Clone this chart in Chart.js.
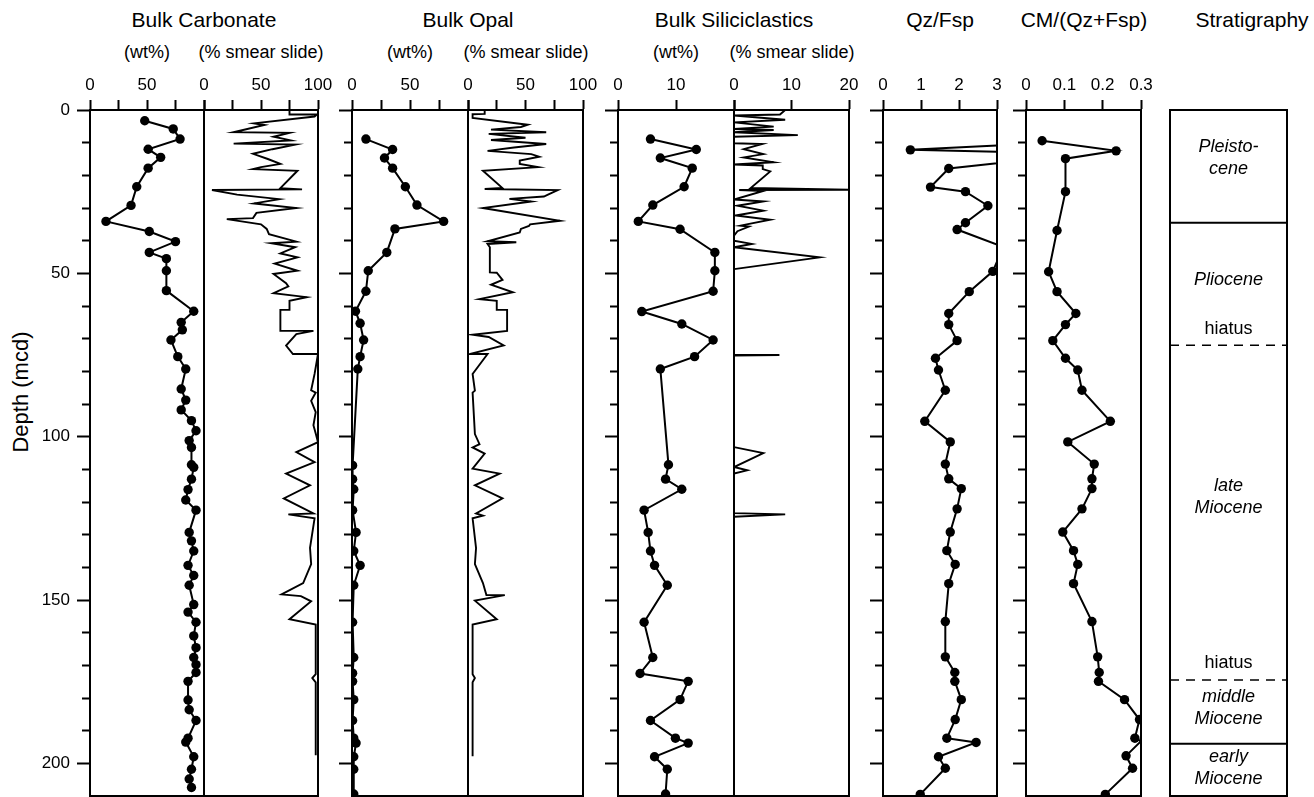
<!DOCTYPE html>
<html>
<head>
<meta charset="utf-8">
<title>Bulk sediment composition versus depth</title>
<script src="https://cdn.jsdelivr.net/npm/chart.js@4.4.1/dist/chart.umd.min.js"></script>
<style>
  html, body { margin: 0; padding: 0; background: #fff; }
  body { position: relative; width: 1314px; height: 797px; overflow: hidden;
         font-family: "Liberation Sans", Arial, Helvetica, sans-serif; color: #000; }
  canvas { position: absolute; top: 0; }
  .hd { position: absolute; white-space: nowrap; transform: translate(-50%, -50%); line-height: 1; }
  .big { font-size: 21px; }
  .sub { font-size: 18px; }
  #depthTitle { position: absolute; left: 21px; top: 392px; font-size: 22px; white-space: nowrap;
                line-height: 1; transform: translate(-50%, -50%) rotate(-90deg); }
</style>
</head>
<body>
<div class="hd big" style="left:204px;top:19px">Bulk Carbonate</div>
<div class="hd big" style="left:468px;top:19px">Bulk Opal</div>
<div class="hd big" style="left:734px;top:19px">Bulk Siliciclastics</div>
<div class="hd big" style="left:940px;top:19px">Qz/Fsp</div>
<div class="hd big" style="left:1084px;top:19px">CM/(Qz+Fsp)</div>
<div class="hd big" style="left:1252px;top:19px">Stratigraphy</div>
<div class="hd sub" style="left:147px;top:52px">(wt%)</div>
<div class="hd sub" style="left:261px;top:52px">(% smear slide)</div>
<div class="hd sub" style="left:410px;top:52px">(wt%)</div>
<div class="hd sub" style="left:526px;top:52px">(% smear slide)</div>
<div class="hd sub" style="left:676px;top:52px">(wt%)</div>
<div class="hd sub" style="left:792px;top:52px">(% smear slide)</div>
<div id="depthTitle">Depth (mcd)</div>
<script>
// ---------------- data (depth in mcd) ----------------
const depthMax = 210;

// Bulk carbonate, wt% (discrete samples)
const carbWtDepth = [3.3, 5.8, 8.9, 12.0, 14.5, 17.8, 23.5, 29.2, 34.1, 37.2, 40.3, 43.6, 45.5, 49.2, 55.3,
  61.6, 65.0, 67.3, 70.4, 75.5, 79.3, 85.4, 88.8, 91.8, 95.1, 98.2, 101.2, 103.3, 108.6, 109.4, 113.0,
  116.2, 119.4, 122.5, 129.3, 131.9, 135.0, 139.4, 142.5, 145.5, 151.4, 153.7, 156.8, 161.0, 164.6,
  167.6, 169.8, 172.2, 174.9, 180.6, 183.6, 186.9, 192.3, 193.5, 198.0, 201.8, 204.8, 207.4];
const carbWt = [48, 73, 79, 51, 62, 51, 41, 36, 14, 52, 75, 52, 67, 67, 67,
  91, 80, 81, 71, 77, 84, 80, 84, 80, 89, 93, 87, 89, 89, 91, 89,
  86, 84, 93, 87, 89, 91, 86, 91, 87, 91, 86, 93, 91, 93,
  91, 93, 93, 86, 86, 87, 93, 86, 84, 91, 89, 87, 89];

// Bulk carbonate, % smear slide
const carbSmDepth = [0, 1.4, 1.4, 2.0, 4.1, 4.6, 6.8, 7.0, 8.2, 9.3, 10.3, 10.6, 12.0, 13.4, 15.0, 16.5,
  17.5, 18.1, 18.6, 23.9, 24.3, 24.5, 25.9, 27.3, 28.6, 30.0, 31.5, 33.1, 33.4, 35.0, 36.4, 38.0, 40.3,
  40.8, 42.0, 43.9, 45.1, 47.0, 49.2, 50.2, 53.0, 54.0, 56.1, 57.3, 58.4, 61.2, 61.2, 67.6, 67.6, 68.6,
  72.1, 74.7, 74.7, 80.8, 85.8, 86.5, 89.0, 92.5, 96.5, 99.0, 101.7, 104.7, 107.8, 111.3, 114.9, 118.9,
  123.5, 123.8, 125.0, 134.0, 139.0, 144.8, 148.3, 148.8, 150.4, 155.9, 157.5, 172.7, 173.9, 175.2, 197.5];
const carbSm = [75, 75, 99, 97, 44, 53, 26, 75, 61, 76, 26, 80, 60, 43, 56, 67,
  50, 43, 82, 67, 86, 7, 29, 66, 44, 81, 46, 43, 20, 50, 55, 57, 81,
  59, 80, 67, 82, 62, 82, 61, 72, 74, 61, 90, 75, 75, 67, 67, 96, 81,
  72, 78, 100, 97, 94, 98, 94, 98, 96, 98, 100, 81, 97, 72, 93, 70,
  96, 74, 97, 93, 94, 87, 68, 85, 94, 75, 98, 98, 95, 98, 98];

// Bulk opal, wt%
const opalWtDepth = [8.9, 12.1, 14.7, 17.8, 23.5, 29.1, 34.1, 36.4, 43.6, 49.2, 55.5, 61.6, 65.3, 70.4,
  75.5, 79.3, 108.8, 113.0, 116.1, 122.5, 129.3, 135.0, 139.4, 145.5, 156.8, 167.6, 172.4, 174.9,
  180.5, 186.9, 192.3, 193.8, 198.0, 201.8, 209.4];
const opalWt = [12, 35, 28, 35, 46, 56, 79, 37, 30, 14, 12, 3, 7, 10,
  7, 5, 0.5, 0.5, 1.5, 0.5, 3.5, 1.5, 7, 1.5, 0.5, 1.5, 0.5, 0.5,
  1.5, 0.5, 1.5, 3.5, 1.5, 1.5, 1.5];

// Bulk opal, % smear slide
const opalSmDepth = [0, 1.2, 1.3, 2.4, 4.5, 5.2, 6.0, 6.8, 7.3, 8.5, 9.2, 10.4, 11.5, 12.5, 13.5, 14.3,
  15.5, 16.5, 17.5, 18.6, 23.9, 24.2, 24.5, 25.8, 26.5, 27.2, 28.0, 30.0, 33.9, 35.0, 35.5, 36.4, 37.5,
  40.2, 40.5, 41.0, 42.0, 49.7, 49.8, 52.0, 53.5, 55.8, 57.9, 58.4, 61.2, 61.2, 67.6, 68.8, 69.5, 72.1,
  74.7, 74.7, 80.8, 85.9, 86.5, 99.2, 102.3, 103.3, 105.2, 109.8, 111.3, 114.9, 118.9, 123.5, 124.2,
  125.0, 134.1, 139.0, 144.8, 148.5, 148.5, 150.2, 155.9, 157.5, 172.7, 173.9, 175.2, 197.8];
const opalSm = [14.5, 14.5, 4, 4, 52, 46, 20, 68, 18, 50, 20, 68, 40, 17, 55, 62,
  45, 45, 61, 13, 30, 14.5, 78, 70, 66, 36, 55, 13, 80, 54, 53, 46, 45,
  17, 42, 17, 19, 19, 25, 30, 20, 39, 10, 25, 25, 34, 34, 4, 18, 31,
  1.5, 17, 4, 6, 4, 6, 10, 4, 14.5, 4, 27.5, 6, 30, 7, 13,
  4, 7, 6, 13, 16, 32, 6, 25, 4, 4, 6, 4, 4];

// Bulk siliciclastics, wt%
const silWtDepth = [8.9, 12.1, 14.7, 17.8, 23.5, 29.1, 34.1, 36.5, 43.6, 49.2, 55.5, 61.7, 65.5, 70.4,
  75.5, 79.3, 108.6, 113.0, 116.1, 122.5, 129.3, 135.0, 139.4, 145.5, 156.8, 167.6, 172.5, 174.9,
  180.5, 186.9, 192.3, 193.8, 198.0, 201.8, 209.4];
const silWt = [5.6, 13.5, 7.3, 12.8, 11.4, 6.0, 3.5, 10.7, 16.7, 16.7, 16.4, 4.1, 11.0, 16.4,
  13.2, 7.3, 8.7, 8.2, 11.0, 4.5, 5.2, 5.6, 6.3, 8.5, 4.5, 6.0, 3.8, 12.1,
  10.7, 5.6, 9.9, 12.1, 6.3, 8.5, 8.2];

// Bulk siliciclastics, % smear slide
const silSmDepth = [0, 1.4, 1.7, 3.0, 3.8, 5.1, 5.8, 6.1, 6.8, 7.7, 8.2, 10.2, 10.4, 12.0, 13.5, 14.5,
  16.0, 16.7, 17.0, 18.1, 18.8, 23.9, 24.4, 24.5, 24.8, 27.4, 28.0, 29.3, 30.8, 32.3, 33.6, 35.4, 35.7,
  37.1, 38.5, 40.0, 41.0, 42.0, 45.1, 48.7, 74.9, 75.0, 75.2, 103.2, 105.0, 109.3, 110.3, 111.3, 123.4,
  123.8, 124.5, 197.5];
const silSm = [8.9, 8.0, 0, 8.9, 0, 6.9, 0, 6.9, 0, 11.1, 0, 0, 4.9, 1.7, 5.1, 1.7,
  6.9, 0, 5.0, 5.0, 6.3, 2.9, 20, 0.9, 5.1, 0, 5.1, 0.6, 5.1, 0.3, 6.3, 1.1, 2.6,
  0.6, 0, 0, 3.1, 0, 14.9, 0, 0, 7.9, 0, 0, 5.1, 0, 2.3, 0, 0,
  8.9, 0, 0];

// Quartz / feldspar ratio (values at the axis limit are off-scale samples)
const qzDepth = [10.9, 12.2, 12.8, 16.3, 17.9, 23.6, 25.0, 29.3, 34.5, 36.6, 41.2, 46.4, 49.4, 55.6,
  62.3, 65.7, 70.6, 76.0, 79.6, 85.8, 95.3, 101.6, 108.4, 112.9, 115.9, 122.1, 129.2, 134.9, 139.1,
  145.0, 156.6, 167.4, 172.2, 174.9, 180.5, 186.6, 192.3, 193.6, 198.0, 201.5, 209.5];
const qzFsp = [3, 0.72, 3, 3, 1.73, 1.25, 2.17, 2.76, 2.17, 1.95, 3, 3, 2.89, 2.27,
  1.73, 1.73, 1.95, 1.38, 1.46, 1.64, 1.10, 1.77, 1.64, 1.73, 2.06, 1.95, 1.77, 1.68, 1.9,
  1.73, 1.64, 1.64, 1.89, 1.89, 2.06, 1.9, 1.68, 2.45, 1.46, 1.64, 0.98];

// Clay minerals / (quartz + feldspar)
const cmDepth = [9.4, 12.5, 14.9, 25.0, 36.9, 49.5, 55.6, 62.3, 65.7, 70.6, 76.0, 79.6, 85.8, 95.3,
  101.6, 108.4, 112.9, 115.9, 122.1, 129.2, 134.9, 139.1, 145.0, 156.6, 167.4, 172.2, 174.9, 180.5,
  186.6, 192.3, 193.2, 197.7, 201.5, 209.5];
const cmRatio = [0.042, 0.235, 0.103, 0.103, 0.081, 0.059, 0.081, 0.130, 0.103, 0.070, 0.103, 0.135,
  0.146, 0.220, 0.109, 0.178, 0.172, 0.172, 0.146, 0.096, 0.124, 0.135, 0.124, 0.172, 0.187, 0.191,
  0.189, 0.257, 0.296, 0.284, 0.3, 0.261, 0.278, 0.207];

// Stratigraphy: unit boundaries (dashed = hiatus) and unit names
const stratBoundaryDepth = [34.5, 72, 174.5, 194];
const stratBoundaryDashed = [false, true, true, false];
const stratNames = [['Pleisto-', 'cene'], ['Pliocene'], ['hiatus'], ['late', 'Miocene'], ['hiatus'],
  ['middle', 'Miocene'], ['early', 'Miocene']];
const stratNameDepth = [14.8, 52, 67, 118.5, 169.3, 183, 201.4];
const stratNameItalic = [true, true, false, true, false, true, true];

// ---------------- drawing ----------------
const FONT = '"Liberation Sans", Arial, Helvetica, sans-serif';
const PAGE_H = 797;
const PLOT_TOP = 110;

function toPoints(depths, values) {
  return depths.map((d, i) => ({ x: values[i], y: d }));
}

function markerSeries(depths, values, limit) {
  return {
    data: toPoints(depths, values),
    showLine: true,
    borderColor: '#000',
    borderWidth: 2,
    pointBackgroundColor: '#000',
    pointBorderWidth: 0,
    pointRadius: c => (limit !== undefined && c.raw && c.raw.x >= limit) ? 0 : 4.7
  };
}

function traceSeries(depths, values) {
  return { data: toPoints(depths, values), showLine: true, borderColor: '#000', borderWidth: 1.9, pointRadius: 0 };
}

// fixes an axis box to an exact size so every panel shares the same plot rectangle
function pinSize(prop, val) {
  return s => { s[prop] = val; s.paddingLeft = 0; s.paddingRight = 0; s.paddingTop = 0; s.paddingBottom = 0; };
}

function frameAxis(position, min, max, reverse) {
  return {
    type: 'linear', position, min, max, reverse: !!reverse,
    afterFit: pinSize(position === 'bottom' ? 'height' : 'width', 0),
    border: { display: true, color: '#000', width: 2 },
    grid: { drawOnChartArea: false, drawTicks: false },
    ticks: { display: false }
  };
}

function drawPanel(p) {
  const leftExtra = p.leftExtra || 16;
  const padRight = 22;
  const w = leftExtra + (p.right - p.left) + padRight;
  const cv = document.createElement('canvas');
  cv.width = w; cv.height = PAGE_H;
  cv.style.left = (p.left - leftExtra) + 'px';
  cv.style.width = w + 'px'; cv.style.height = PAGE_H + 'px';
  document.body.appendChild(cv);

  const showX = p.xStep !== undefined;
  const depthTicks = p.depth !== 'none';
  const scales = {
    x: {
      type: 'linear', position: 'top', min: p.xMin, max: p.xMax,
      afterFit: pinSize('height', PLOT_TOP),
      border: { display: true, color: '#000', width: 2 },
      grid: { drawOnChartArea: false, drawTicks: showX, tickLength: 10, tickWidth: 2, tickColor: '#000' },
      ticks: { display: showX, stepSize: p.xStep, autoSkip: false, maxRotation: 0, padding: 4,
               color: '#000', font: { family: FONT, size: 17 }, callback: p.xLabel || (v => String(v)) }
    },
    xb: frameAxis('bottom', p.xMin, p.xMax),
    y: {
      type: 'linear', position: 'left', min: 0, max: depthMax, reverse: true,
      afterBuildTicks: s => { s.ticks = s.ticks.filter(t => t.value <= 200); },
      afterFit: pinSize('width', leftExtra),
      border: { display: true, color: '#000', width: 2 },
      grid: {
        drawOnChartArea: false, drawTicks: depthTicks, tickLength: 13, tickWidth: 2, tickColor: '#000',
        // every 10 m a short tick, every 50 m a long one
        tickBorderDash: c => (c.tick && c.tick.value % 50 === 0) ? [] : [0, 5, 8, 100]
      },
      ticks: { display: p.depth === 'labels', stepSize: 10, autoSkip: false, padding: 7, color: '#000',
               font: { family: FONT, size: 17 }, callback: v => (v % 50 === 0 ? String(v) : '') }
    },
    yr: frameAxis('right', 0, depthMax, true)
  };

  return new Chart(cv, {
    type: 'scatter',
    data: { datasets: p.datasets },
    options: {
      responsive: false, animation: false, devicePixelRatio: 1, events: [],
      layout: { padding: { left: 0, top: 0, right: padRight, bottom: 1 }, autoPadding: false },
      plugins: { legend: { display: false }, tooltip: { enabled: false } },
      scales
    },
    plugins: p.plugins || []
  });
}

const half50 = v => (v % 50 === 0 ? String(v) : '');

// Bulk carbonate
drawPanel({ left: 90, right: 204, xMin: 0, xMax: 100, xStep: 25, leftExtra: 90, depth: 'labels',
  xLabel: v => (v === 0 || v === 50 ? String(v) : ''), datasets: [markerSeries(carbWtDepth, carbWt)] });
drawPanel({ left: 204, right: 318, xMin: 0, xMax: 100, xStep: 25, depth: 'none',
  xLabel: half50, datasets: [traceSeries(carbSmDepth, carbSm)] });

// Bulk opal
drawPanel({ left: 352, right: 468, xMin: 0, xMax: 100, xStep: 25, depth: 'ticks',
  xLabel: v => (v === 0 || v === 50 ? String(v) : ''), datasets: [markerSeries(opalWtDepth, opalWt)] });
drawPanel({ left: 468, right: 583, xMin: 0, xMax: 100, xStep: 25, depth: 'none',
  xLabel: half50, datasets: [traceSeries(opalSmDepth, opalSm)] });

// Bulk siliciclastics
drawPanel({ left: 618, right: 734, xMin: 0, xMax: 20, xStep: 10, depth: 'ticks',
  xLabel: v => (v === 20 ? '' : String(v)), datasets: [markerSeries(silWtDepth, silWt)] });
drawPanel({ left: 734, right: 849, xMin: 0, xMax: 20, xStep: 10, depth: 'none',
  datasets: [traceSeries(silSmDepth, silSm)] });

// Qz/Fsp
drawPanel({ left: 883, right: 997, xMin: 0, xMax: 3, xStep: 1, depth: 'ticks',
  datasets: [markerSeries(qzDepth, qzFsp, 3)] });

// CM/(Qz+Fsp)
drawPanel({ left: 1026, right: 1141, xMin: 0, xMax: 0.3, xStep: 0.1, depth: 'ticks',
  xLabel: v => (Math.abs(v) < 1e-9 ? '0' : v.toFixed(1)), datasets: [markerSeries(cmDepth, cmRatio, 0.3)] });

// Stratigraphy column
const stratLabelPlugin = {
  id: 'stratLabels',
  afterDatasetsDraw(chart) {
    const { ctx, chartArea, scales } = chart;
    const cx = (chartArea.left + chartArea.right) / 2;
    const lineH = 22;
    ctx.save();
    ctx.fillStyle = '#000';
    ctx.textAlign = 'center';
    ctx.textBaseline = 'middle';
    stratNames.forEach((lines, i) => {
      ctx.font = (stratNameItalic[i] ? 'italic ' : '') + '18px ' + FONT;
      const yc = scales.y.getPixelForValue(stratNameDepth[i]);
      lines.forEach((t, j) => ctx.fillText(t, cx, yc + (j - (lines.length - 1) / 2) * lineH));
    });
    ctx.restore();
  }
};

drawPanel({
  left: 1170, right: 1287, xMin: 0, xMax: 1, depth: 'none',
  datasets: stratBoundaryDepth.map((d, i) => ({
    data: [{ x: 0, y: d }, { x: 1, y: d }],
    showLine: true, borderColor: '#000', borderWidth: stratBoundaryDashed[i] ? 1.6 : 2,
    borderDash: stratBoundaryDashed[i] ? [9, 7] : [], pointRadius: 0
  })),
  plugins: [stratLabelPlugin]
});
</script>
</body>
</html>
